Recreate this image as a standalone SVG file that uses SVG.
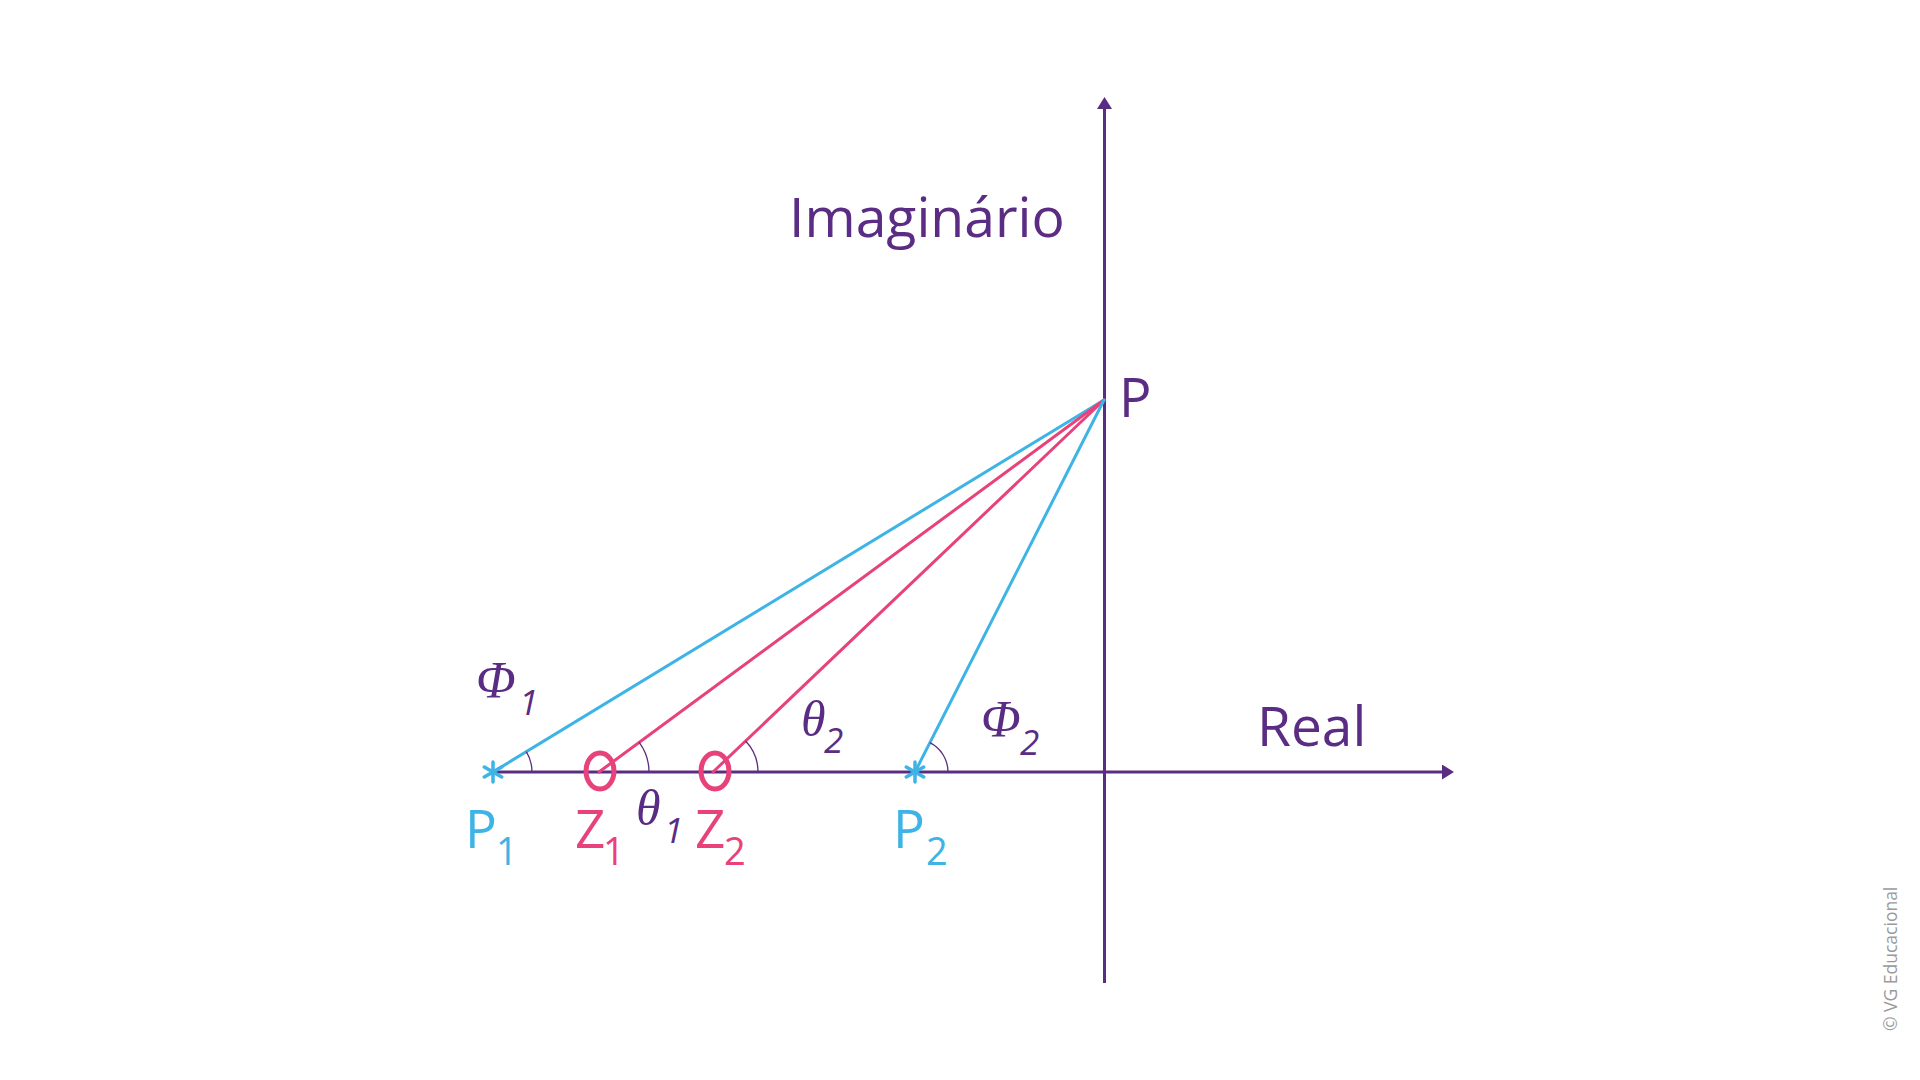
<svg xmlns="http://www.w3.org/2000/svg" width="1920" height="1080" viewBox="0 0 1920 1080">
<defs>
<style>
.axis{stroke:#5B2C83;stroke-width:3;fill:none}
.blue{stroke:#3DB4E5;stroke-width:3;fill:none;stroke-linecap:round}
.pink{stroke:#E7427B;stroke-width:3;fill:none;stroke-linecap:round}
.arc{stroke:#5B2C83;stroke-width:1.3;fill:none}
.lab{font-family:"Open Sans","Liberation Sans",sans-serif;fill:#5B2C83}
.bl{fill:#3DB4E5}
.pk{fill:#E7427B}
.greek{font-family:"Liberation Serif","DejaVu Serif",serif;font-style:italic;fill:#5B2C83}
.sub{font-family:"Open Sans","Liberation Sans",sans-serif;font-style:italic;fill:#5B2C83}
.star{stroke:#3DB4E5;stroke-width:3.5;stroke-linecap:round;fill:none}
.zero{stroke:#E7427B;stroke-width:5;fill:none}
</style>
<marker id="ah" markerWidth="12" markerHeight="15" refX="0" refY="7.5" orient="auto" markerUnits="userSpaceOnUse">
<path d="M0,0 L12,7.5 L0,15 Z" fill="#5B2C83"/>
</marker>
</defs>
<rect width="1920" height="1080" fill="#FFFFFF"/>
<g id="axes">
<line class="axis" x1="1104.5" y1="983" x2="1104.5" y2="109" marker-end="url(#ah)"/>
<line class="axis" x1="493" y1="772" x2="1442" y2="772" marker-end="url(#ah)"/>
<text class="lab" x="789" y="237" font-size="55.3">Imaginário</text>
<text class="lab" x="1257" y="746" font-size="55">Real</text>
</g>
<g id="connectors">
<line class="blue" x1="493" y1="772" x2="1104" y2="400"/>
<line class="pink" x1="599" y1="772" x2="1104" y2="400"/>
<line class="pink" x1="713" y1="772" x2="1104" y2="400"/>
<line class="blue" x1="915" y1="772" x2="1104" y2="400"/>
</g>
<g id="angles">
<path class="arc" d="M532,772 A39,39 0 0 0 526.3,751.7"/>
<path class="arc" d="M649,772 A50,50 0 0 0 639.2,742.3"/>
<path class="arc" d="M758,772 A45,45 0 0 0 745.6,741"/>
<path class="arc" d="M948,772 A33,33 0 0 0 929.9,742.6"/>
<text class="greek" x="476" y="698" font-size="52">Φ</text>
<text class="sub" x="519" y="715" font-size="35">1</text>
<text class="greek" x="636" y="825" font-size="50">θ</text>
<text class="sub" x="664" y="843" font-size="35">1</text>
<text class="greek" x="801" y="736" font-size="50">θ</text>
<text class="sub" x="824" y="753" font-size="35">2</text>
<text class="greek" x="981" y="737" font-size="52">Φ</text>
<text class="sub" x="1020" y="755" font-size="35">2</text>
</g>
<g id="P">
<text class="lab" x="1119" y="417" font-size="54">P</text>
</g>
<g id="P1">
<path class="star" d="M493,762 V782 M484.3,767 L501.7,777 M484.3,777 L501.7,767"/>
<text class="lab bl" x="465" y="848" font-size="53">P</text>
<text class="lab bl" x="496" y="865" font-size="38">1</text>
</g>
<g id="Z1">
<ellipse class="zero" cx="600" cy="771" rx="14" ry="18"/>
<text class="lab pk" x="575" y="848" font-size="53">Z</text>
<text class="lab pk" x="603" y="865" font-size="38">1</text>
</g>
<g id="Z2">
<ellipse class="zero" cx="715" cy="771" rx="14" ry="18"/>
<text class="lab pk" x="695" y="848" font-size="53">Z</text>
<text class="lab pk" x="724" y="865" font-size="38">2</text>
</g>
<g id="P2">
<path class="star" d="M915,762 V782 M906.3,767 L923.7,777 M906.3,777 L923.7,767"/>
<text class="lab bl" x="893" y="848" font-size="53">P</text>
<text class="lab bl" x="926" y="865" font-size="38">2</text>
</g>
<text x="0" y="0" transform="translate(1897,1031) rotate(-90)" font-family="'Open Sans','Liberation Sans',sans-serif" font-size="17.5" fill="#9A9A9A">© VG Educacional</text>
</svg>
